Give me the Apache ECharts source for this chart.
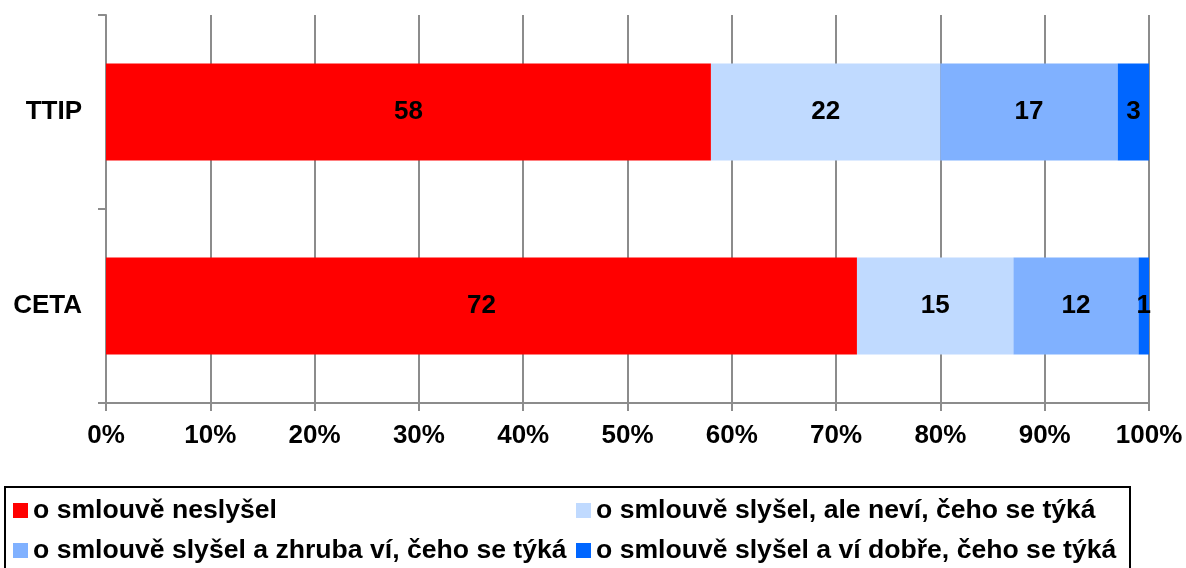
<!DOCTYPE html>
<html>
<head>
<meta charset="utf-8">
<script src="https://cdn.jsdelivr.net/npm/echarts@6/dist/echarts.min.js"></script>
<style>
  html, body { margin: 0; padding: 0; background: #fff; }
  #chart { width: 1186px; height: 568px; }
</style>
</head>
<body>
<div id="chart"></div>
<script>
  // categories top to bottom
  var categories = ['TTIP', 'CETA'];
  var seriesNames = [
    'o smlouvě neslyšel',
    'o smlouvě slyšel, ale neví, čeho se týká',
    'o smlouvě slyšel a zhruba ví, čeho se týká',
    'o smlouvě slyšel a ví dobře, čeho se týká'
  ];
  var neslysel = [58, 72];
  var aleNevi = [22, 15];
  var zhrubaVi = [17, 12];
  var viDobre = [3, 1];
  var xTicks = [0, 10, 20, 30, 40, 50, 60, 70, 80, 90, 100];

  var colors = ['#FF0000', '#C0DAFF', '#80B1FF', '#0066FF'];
  var allData = [neslysel, aleNevi, zhrubaVi, viDobre];
  var font = 'Liberation Sans, Arial, sans-serif';

  var chart = echarts.init(document.getElementById('chart'));

  var series = [];
  for (var i = 0; i < seriesNames.length; i++) {
    series.push({
      name: seriesNames[i],
      type: 'bar',
      stack: 'total',
      barWidth: '50%',
      data: allData[i],
      itemStyle: { color: colors[i] },
      label: {
        show: true,
        position: 'inside',
        color: '#000',
        fontFamily: font,
        fontWeight: 'bold',
        fontSize: 26
      },
      animation: false
    });
  }

  var legendText = { fontFamily: font, fontWeight: 'bold', fontSize: 26.6, color: '#000' };

  chart.setOption({
    grid: { left: 106, right: 37, top: 15, bottom: 165 },
    legend: [
      {
        data: [seriesNames[0], seriesNames[2]],
        orient: 'vertical',
        left: 13, top: 497,
        padding: 0,
        height: 80,
        itemWidth: 15, itemHeight: 15, itemGap: 13,
        icon: 'rect',
        textStyle: legendText
      },
      {
        data: [seriesNames[1], seriesNames[3]],
        orient: 'vertical',
        left: 576, top: 497,
        padding: 0,
        height: 80,
        itemWidth: 15, itemHeight: 15, itemGap: 13,
        icon: 'rect',
        textStyle: legendText
      }
    ],
    graphic: [{
      type: 'rect',
      shape: { x: 5, y: 487, width: 1125, height: 100 },
      style: { fill: 'none', stroke: '#000', lineWidth: 2 },
      silent: true
    }],
    xAxis: {
      type: 'value',
      min: 0, max: 100, interval: 10,
      axisLine: { show: true, lineStyle: { color: '#8c8c8c', width: 2 } },
      axisTick: { show: true, length: 8, lineStyle: { color: '#8c8c8c', width: 2 } },
      splitLine: { show: true, lineStyle: { color: '#8c8c8c', width: 2 } },
      axisLabel: {
        margin: 20,
        fontFamily: font, fontWeight: 'bold', fontSize: 26, color: '#000',
        formatter: function (v) { return xTicks.indexOf(v) >= 0 ? v + '%' : ''; }
      }
    },
    yAxis: {
      type: 'category',
      data: categories,
      inverse: true,
      axisLine: { show: true, lineStyle: { color: '#8c8c8c', width: 2 } },
      axisTick: { show: true, length: 8, lineStyle: { color: '#8c8c8c', width: 2 } },
      axisLabel: {
        margin: 24,
        fontFamily: font, fontWeight: 'bold', fontSize: 26, color: '#000'
      }
    },
    series: series
  });
</script>
</body>
</html>
